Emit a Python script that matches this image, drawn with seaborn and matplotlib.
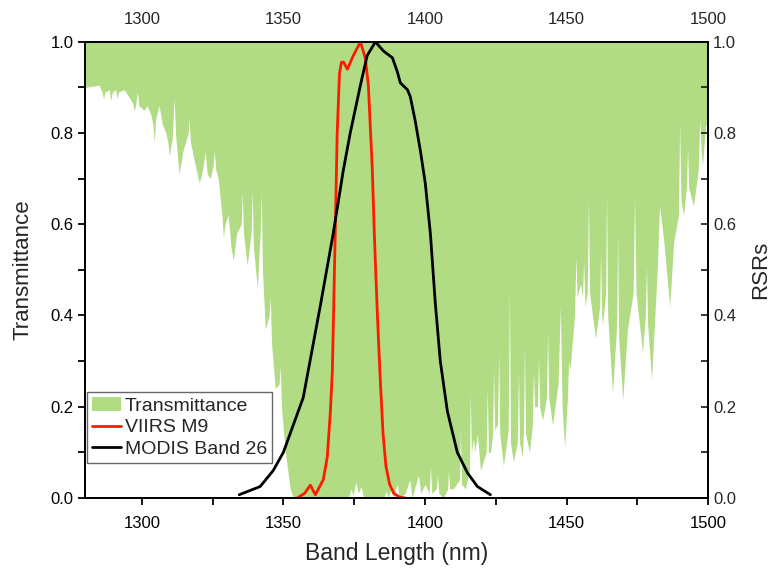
import matplotlib
matplotlib.use("Agg")
import matplotlib.pyplot as plt
import seaborn as sns
import numpy as np
import pandas as pd
from matplotlib.patches import Patch
from matplotlib.lines import Line2D
from matplotlib.ticker import MultipleLocator, FormatStrFormatter

# ---------------- data ----------------
trans_nm = [1280, 1284.9, 1286.0, 1286.5, 1287.0, 1288.5, 1289.0, 1289.6, 1290.8, 1291.3,
            1291.8, 1293.8, 1295.9, 1296.8, 1297.3, 1297.8, 1298.4, 1299.0, 1300.8, 1301.9,
            1303.2, 1303.9, 1304.4, 1304.9, 1306.1, 1307.2, 1308.5, 1309.2, 1309.7, 1310.8,
            1311.4, 1312.0, 1313.2, 1314.5, 1316.4, 1316.7, 1317.2, 1318.5, 1320.3, 1321.5,
            1322.4, 1323.1, 1324.2, 1325.2, 1325.6, 1326.1, 1327.0, 1328.3, 1328.8, 1329.4,
            1330.5, 1331.5, 1332.3, 1333.5, 1335.1, 1335.5, 1335.9, 1337.2, 1338.6, 1339.0,
            1339.4, 1340.8, 1341.8, 1342.2, 1342.6, 1343.6, 1345.0, 1345.4, 1345.8, 1347.1,
            1348.5, 1348.9, 1349.3, 1350.7, 1352.4, 1353.5,
            1355.0, 1373.0, 1373.8, 1374.6, 1375.6, 1376.4, 1377.4, 1378.4, 1385.5, 1386.3,
            1387.0, 1388.0, 1388.8, 1390.2, 1391.0, 1393.0, 1394.6, 1395.4, 1397.7, 1398.5,
            1400.0, 1401.5, 1401.9, 1402.4, 1404.0, 1404.4, 1404.9, 1406.5, 1408.0, 1408.3,
            1408.7, 1410.0, 1412.2, 1412.5, 1412.9, 1414.3, 1415.7, 1416.0, 1416.4, 1417.1,
            1417.5, 1418.5, 1419.6, 1421.6, 1422.0, 1422.4, 1423.1, 1423.9, 1424.2, 1424.6,
            1425.6, 1426.0, 1426.4, 1427.7, 1429.4, 1429.8, 1430.2, 1431.2, 1432.6, 1433.0,
            1433.4, 1434.4, 1434.8, 1435.1, 1435.5, 1436.9, 1437.9, 1438.3, 1438.7, 1439.7,
            1440.1, 1440.5, 1441.5, 1442.9, 1443.3, 1443.7, 1445.0, 1447.0, 1447.8, 1448.4,
            1449.3, 1450.3, 1450.7, 1451.2, 1452.8, 1453.3, 1453.7, 1454.9, 1455.6, 1456.0,
            1456.5, 1457.3, 1457.7, 1458.1, 1460.2, 1461.7, 1462.0, 1462.4, 1462.7, 1463.8,
            1464.1, 1464.5, 1466.2, 1467.7, 1468.0, 1468.4, 1469.8, 1471.5, 1473.5, 1474.0,
            1474.5, 1476.8, 1477.8, 1478.2, 1478.6, 1480.0, 1482.0, 1482.8, 1484.2, 1486.4,
            1487.8, 1489.5, 1489.9, 1490.4, 1491.3, 1492.3, 1492.7, 1493.1, 1494.8, 1496.5,
            1497.0, 1497.5, 1498.0, 1499.1, 1500.0]
trans_val = [0.90, 0.905, 0.89, 0.875, 0.89, 0.895, 0.87, 0.89, 0.895, 0.875,
             0.89, 0.895, 0.875, 0.865, 0.85, 0.86, 0.89, 0.86, 0.85, 0.86,
             0.84, 0.82, 0.78, 0.83, 0.86, 0.82, 0.80, 0.78, 0.75, 0.79,
             0.877, 0.79, 0.71, 0.76, 0.80, 0.83, 0.78, 0.74, 0.69, 0.72,
             0.76, 0.71, 0.70, 0.73, 0.76, 0.72, 0.70, 0.62, 0.57, 0.60,
             0.62, 0.55, 0.52, 0.58, 0.60, 0.67, 0.58, 0.51, 0.58, 0.675,
             0.55, 0.46, 0.58, 0.67, 0.50, 0.37, 0.40, 0.44, 0.34, 0.24,
             0.25, 0.29, 0.20, 0.10, 0.02, 0.0,
             0.0, 0.0, 0.02, 0.005, 0.035, 0.01, 0.025, 0.0, 0.0, 0.015,
             0.0, 0.02, 0.0, 0.03, 0.0, 0.01, 0.04, 0.0, 0.05, 0.01,
             0.03, 0.01, 0.07, 0.01, 0.02, 0.05, 0.01, 0.0, 0.02, 0.06,
             0.02, 0.02, 0.04, 0.15, 0.03, 0.02, 0.06, 0.23, 0.10, 0.13,
             0.10, 0.14, 0.06, 0.10, 0.24, 0.10, 0.10, 0.14, 0.29, 0.15,
             0.16, 0.32, 0.14, 0.07, 0.15, 0.46, 0.12, 0.08, 0.12, 0.28,
             0.12, 0.09, 0.15, 0.335, 0.14, 0.10, 0.16, 0.28, 0.20, 0.20,
             0.31, 0.20, 0.17, 0.22, 0.36, 0.22, 0.16, 0.25, 0.42, 0.20,
             0.11, 0.22, 0.30, 0.28, 0.40, 0.53, 0.44, 0.47, 0.44, 0.52,
             0.42, 0.45, 0.66, 0.45, 0.35, 0.42, 0.54, 0.40, 0.38, 0.45,
             0.67, 0.40, 0.23, 0.38, 0.58, 0.35, 0.215, 0.37, 0.45, 0.66,
             0.45, 0.32, 0.40, 0.51, 0.38, 0.26, 0.50, 0.64, 0.57, 0.42,
             0.56, 0.62, 0.82, 0.65, 0.62, 0.68, 0.77, 0.68, 0.64, 0.72,
             0.83, 0.76, 0.73, 0.82, 0.80]

viirs_nm = [1354.9, 1357.5, 1359.5, 1361.3, 1364.1, 1365.5, 1366.6, 1367.3, 1368.3, 1369.0,
            1369.8, 1370.5, 1371.2, 1372.6, 1374.7, 1377.2, 1378.9, 1380.0, 1381.4, 1382.1,
            1383.2, 1384.2, 1385.2, 1386.2, 1387.5, 1389.0, 1391.0, 1393.0]
viirs_val = [0.0, 0.01, 0.028, 0.007, 0.04, 0.09, 0.19, 0.28, 0.58, 0.80,
             0.93, 0.955, 0.956, 0.94, 0.97, 1.0, 0.965, 0.905, 0.72, 0.58,
             0.40, 0.26, 0.14, 0.07, 0.03, 0.01, 0.002, 0.0]

modis_nm = [1334.4, 1341.8, 1346.4, 1350.0, 1353.5, 1357.0, 1363.0, 1367.6, 1371.2, 1373.6,
            1377.2, 1379.6, 1382.5, 1385.3, 1388.5, 1390.2, 1391.3, 1393.8, 1394.8, 1396.6,
            1398.4, 1400.1, 1401.9, 1403.6, 1405.4, 1407.9, 1411.4, 1415.0, 1418.5, 1423.1]
modis_val = [0.007, 0.025, 0.06, 0.10, 0.16, 0.22, 0.42, 0.58, 0.72, 0.80,
             0.905, 0.97, 1.0, 0.98, 0.965, 0.935, 0.91, 0.895, 0.88, 0.825,
             0.76, 0.69, 0.58, 0.43, 0.30, 0.19, 0.10, 0.055, 0.025, 0.007]

x_ticks = [1300, 1350, 1400, 1450, 1500]

# ---------------- plotting ----------------
sns.set_style("ticks")
plt.rcParams['font.family'] = ['Liberation Sans', 'DejaVu Sans']

GREEN = '#b1dc84'
fig = plt.figure(figsize=(7.74, 5.73), dpi=100)
ax = fig.add_axes([0.110, 0.131, 0.805, 0.796])

ax.fill_between(trans_nm, trans_val, 1.0, color=GREEN, linewidth=0, zorder=1)
ax.set_xlim(1280, 1500)
ax.set_ylim(0, 1.0)

ax2 = ax.twinx()
df_v = pd.DataFrame({'nm': viirs_nm, 'rsr': viirs_val})
df_m = pd.DataFrame({'nm': modis_nm, 'rsr': modis_val})
sns.lineplot(data=df_v, x='nm', y='rsr', ax=ax2, color='#ff1a00', linewidth=2.0, sort=False)
sns.lineplot(data=df_m, x='nm', y='rsr', ax=ax2, color='black', linewidth=2.0, sort=False)
ax2.set_ylim(0, 1.0)
ax2.set_xlim(1280, 1500)

# ticks
ax.set_xticks(x_ticks)
ax.xaxis.set_minor_locator(MultipleLocator(25))
ax.yaxis.set_major_locator(MultipleLocator(0.2))
ax.yaxis.set_minor_locator(MultipleLocator(0.1))
ax.yaxis.set_major_formatter(FormatStrFormatter('%.1f'))
ax.tick_params(axis='both', which='both', direction='out', length=5, width=1.3,
               labelsize=12, colors='black')
ax.tick_params(axis='x', which='major', pad=8)

ax2.yaxis.set_major_locator(MultipleLocator(0.2))
ax2.yaxis.set_minor_locator(MultipleLocator(0.1))
ax2.yaxis.set_major_formatter(FormatStrFormatter('%.1f'))
ax2.tick_params(axis='y', which='both', direction='in', length=5, width=1.3, labelsize=12)
ax2.set_ylabel('RSRs', fontsize=16, labelpad=10)
ax2.set_xlabel('')

secax = ax.secondary_xaxis('top')
secax.set_xticks(x_ticks)
secax.xaxis.set_minor_locator(MultipleLocator(25))
secax.tick_params(axis='x', which='both', direction='in', length=5, width=1.3,
                  labelsize=12, pad=11)

ax.set_xlabel('Band Length (nm)', fontsize=16.5, labelpad=8)
ax.set_ylabel('Transmittance', fontsize=16, labelpad=12)

for a in (ax, ax2):
    for s in a.spines.values():
        s.set_linewidth(1.3)
        s.set_color('black')
        s.set_visible(True)

handles = [Patch(facecolor=GREEN, edgecolor='none'),
           Line2D([0], [0], color='#ff1a00', lw=2),
           Line2D([0], [0], color='black', lw=2)]
labels = ['Transmittance', 'VIIRS M9', 'MODIS Band 26']
leg = ax2.legend(handles, labels, loc='lower left', bbox_to_anchor=(0.003, 0.077),
                 fontsize=14, frameon=True, fancybox=False, edgecolor='#666666',
                 framealpha=1, handlelength=1.5, handletextpad=0.2,
                 borderpad=0.25, labelspacing=0.2, borderaxespad=0.0)
leg.get_frame().set_linewidth(1.0)

fig.savefig('out.png', dpi=100)
